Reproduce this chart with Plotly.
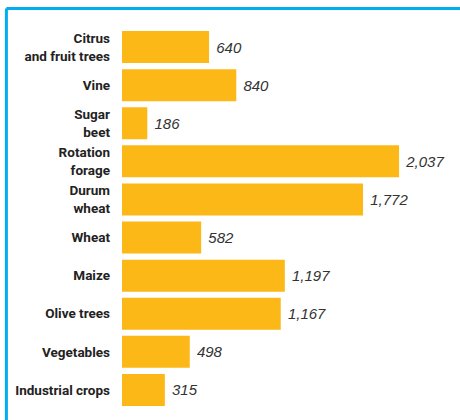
import plotly.graph_objects as go

# crops and area values (top to bottom as drawn)
crops = ["Citrus<br>and fruit trees", "Vine", "Sugar<br>beet", "Rotation<br>forage",
         "Durum<br>wheat", "Wheat", "Maize", "Olive trees", "Vegetables", "Industrial crops"]
values = [640, 840, 186, 2037, 1772, 582, 1197, 1167, 498, 315]
labels = ["640", "840", "186", "2,037", "1,772", "582", "1,197", "1,167", "498", "315"]

bar_color = "#FBB817"
frame_color = "#00AEEF"

fig = go.Figure(go.Bar(
    x=values,
    y=crops,
    orientation="h",
    marker=dict(color=bar_color, line=dict(width=0)),
    text=labels,
    texttemplate="\u00a0%{text}",
    textposition="outside",
    cliponaxis=False,
    textfont=dict(family="Liberation Sans, Arial, sans-serif", size=15,
                  color="#333333", style="italic"),
    hoverinfo="skip",
))

# plot area: x from 122 to 460, y from 28 to 409 (px)
fig.update_layout(
    width=460, height=420,
    margin=dict(l=122, r=0, t=28, b=11),
    paper_bgcolor="white",
    plot_bgcolor="white",
    bargap=0.16,
    showlegend=False,
    xaxis=dict(range=[0, 2485], visible=False, fixedrange=True, automargin=False),
    yaxis=dict(
        autorange="reversed", automargin=False,
        showgrid=False, zeroline=False, showline=False,
        ticks="", ticklabelstandoff=11,
        tickfont=dict(family="Roboto, sans-serif",
                      size=13.5, color="#222222", weight="bold"),
        fixedrange=True,
    ),
)

# blue frame on top and left edge (x=6.5px, y=8.5px)
fig.add_shape(type="line", xref="paper", yref="paper",
              x0=-0.342, x1=1.0, y0=1.0512, y1=1.0512,
              line=dict(color=frame_color, width=3))
fig.add_shape(type="line", xref="paper", yref="paper",
              x0=-0.342, x1=-0.342, y0=1.0512, y1=-0.03,
              line=dict(color=frame_color, width=3))

fig.write_html("out.html", config=dict(displayModeBar=False),
               post_script="document.body.style.margin='0';")
